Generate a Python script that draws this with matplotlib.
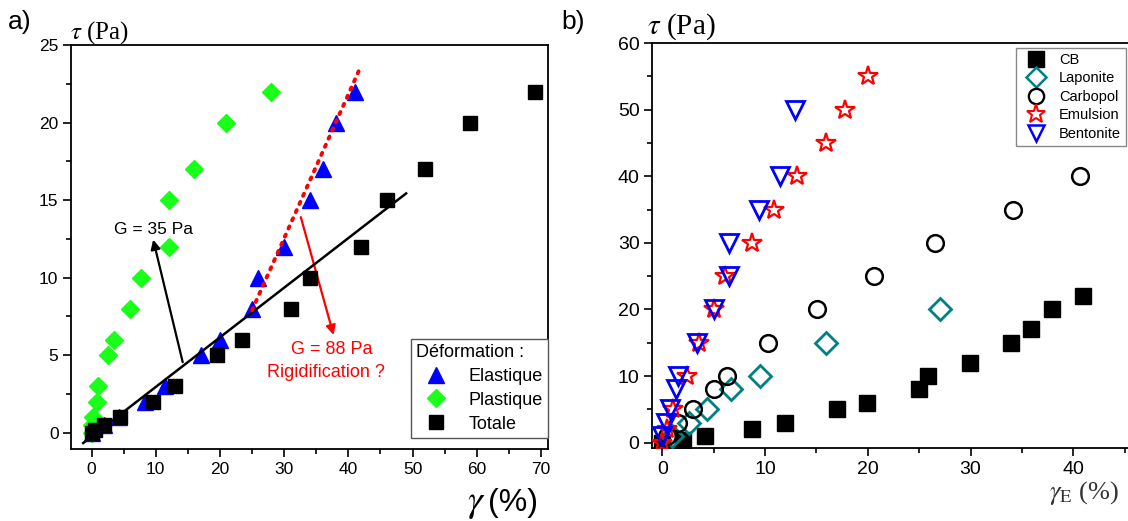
import matplotlib
matplotlib.use("Agg")
import matplotlib.pyplot as plt
from matplotlib.ticker import MultipleLocator
from matplotlib.lines import Line2D

plt.rcParams['font.family'] = ['Liberation Sans', 'DejaVu Sans']
plt.rcParams['mathtext.fontset'] = 'stix'

# ---------------- Panel a) data ----------------
elast_x = [0, 2, 4.2, 8.3, 11.5, 17, 20, 25, 26, 30, 34, 36, 38, 41]
elast_y = [0, 0.5, 1, 2, 3, 5, 6, 8, 10, 12, 15, 17, 20, 22]
plast_x = [0, 0, 0.2, 0.8, 1, 2.5, 3.5, 6, 7.7, 12, 12, 16, 21, 28]
plast_y = [0, 0.5, 1, 2, 3, 5, 6, 8, 10, 12, 15, 17, 20, 22]
total_x = [0, 0.5, 2, 4.5, 9.5, 13, 19.5, 23.5, 31, 34, 42, 46, 52, 59, 69]
total_y = [0, 0.2, 0.5, 1, 2, 3, 5, 6, 8, 10, 12, 15, 17, 20, 22]
fit_total = (0.32, -0.25, -1.3, 49.0)     # slope, intercept, x start, x end
fit_elast = (0.928, -15.3, 25.0, 41.6)

# ---------------- Panel b) data ----------------
cb_x = [0, 2, 4.2, 8.7, 11.9, 17, 19.9, 25, 25.9, 29.9, 33.9, 35.9, 37.9, 40.9]
cb_y = [0, 0.4, 1, 2, 3, 5, 6, 8, 10, 12, 15, 17, 20, 22]
lap_x = [0.9, 2.6, 4.4, 6.7, 9.5, 15.9, 27]
lap_y = [1, 3, 5, 8, 10, 15, 20]
carb_x = [0.5, 1.5, 3.0, 5.0, 6.3, 10.3, 15.1, 20.6, 26.5, 34.1, 40.6]
carb_y = [1, 3, 5, 8, 10, 15, 20, 25, 30, 35, 40]
emul_x = [0, 0.5, 1.0, 2.4, 3.6, 5.0, 6.1, 8.7, 10.9, 13.1, 15.9, 17.8, 20]
emul_y = [0, 2, 5, 10, 15, 20, 25, 30, 35, 40, 45, 50, 55]
bent_x = [0, 0.35, 0.8, 1.3, 1.5, 3.4, 5.0, 6.5, 6.5, 9.4, 11.5, 12.9]
bent_y = [1, 3, 5, 8, 10, 15, 20, 25, 30, 35, 40, 50]

GREEN = '#1aff1a'

W, H = 1128, 521
fig = plt.figure(figsize=(W / 100, H / 100), dpi=100)

def px_axes(l, r, t, b):
    return fig.add_axes([l / W, 1 - b / H, (r - l) / W, (b - t) / H])

def style(ax, fs):
    for s in ax.spines.values():
        s.set_linewidth(1.3)
    ax.tick_params(which='major', direction='out', length=6, width=1.2,
                   labelsize=fs, top=False, right=False, pad=3)
    ax.tick_params(which='minor', direction='out', length=3.5, width=1.2,
                   top=False, right=False)

# ---------------- Panel a ----------------
ax1 = px_axes(71, 548, 45, 449)
ax1.set_xlim(-3.2, 71.1)
ax1.set_ylim(-1.05, 25)
ax1.xaxis.set_major_locator(MultipleLocator(10))
ax1.xaxis.set_minor_locator(MultipleLocator(5))
ax1.yaxis.set_major_locator(MultipleLocator(5))
ax1.yaxis.set_minor_locator(MultipleLocator(2.5))
style(ax1, 12.5)

s, b, x0, x1 = fit_total
ax1.plot([x0, x1], [s * x0 + b, s * x1 + b], color='black', lw=1.8, zorder=4)
ax1.plot(plast_x, plast_y, ls='none', marker='D', ms=9.5, color=GREEN,
         mec=GREEN, zorder=3)
ax1.plot(elast_x, elast_y, ls='none', marker='^', ms=11, color='#0000ff', zorder=3)
ax1.plot(total_x, total_y, ls='none', marker='s', ms=10, color='black', zorder=5)
s, b, x0, x1 = fit_elast
ax1.plot([x0, x1], [s * x0 + b, s * x1 + b], color='#ff0000', lw=2.8,
         ls=(0, (0.6, 1.7)), dash_capstyle='round', zorder=6)

ax1.annotate('', xy=(9.6, 12.45), xytext=(14.2, 4.55),
             arrowprops=dict(arrowstyle='-|>', color='black', lw=1.6,
                             mutation_scale=14, shrinkA=0, shrinkB=0))
ax1.text(9.7, 13.1, 'G = 35 Pa', ha='center', va='center', fontsize=12.5)
ax1.annotate('', xy=(37.7, 6.3), xytext=(32.6, 13.9),
             arrowprops=dict(arrowstyle='-|>', color='#ff0000', lw=1.6,
                             mutation_scale=14, shrinkA=0, shrinkB=0))
ax1.text(37.4, 5.35, 'G = 88 Pa', ha='center', va='center', fontsize=13,
         color='#ff0000')
ax1.text(36.5, 3.9, 'Rigidification ?', ha='center', va='center', fontsize=13,
         color='#ff0000')

h1 = [Line2D([], [], ls='none', marker='^', ms=11, color='#0000ff'),
      Line2D([], [], ls='none', marker='D', ms=9.5, color=GREEN),
      Line2D([], [], ls='none', marker='s', ms=10, color='black')]
leg1 = ax1.legend(h1, ['Elastique', 'Plastique', 'Totale'], title='Déformation :',
                  loc='lower right', bbox_to_anchor=(1.0, 0.027), borderaxespad=0,
                  fontsize=13, title_fontsize=13, fancybox=False, edgecolor='#555555',
                  handletextpad=0.7, labelspacing=0.38, borderpad=0.3,
                  alignment='left', framealpha=1, handlelength=2.2)
leg1.get_frame().set_linewidth(1.0)

fig.text(70 / W, 1 - 33 / H, r'$\tau$ (Pa)', fontsize=18, ha='left', va='center',
         family='Liberation Serif')
fig.text(467 / W, 1 - 503 / H, r'$\gamma$', fontsize=27, ha='left', va='center')
fig.text(488 / W, 1 - 503 / H, '(%)', fontsize=23, ha='left', va='center')
fig.text(8 / W, 1 - 22 / H, 'a)', fontsize=19, ha='left', va='center')

# ---------------- Panel b ----------------
ax2 = px_axes(652, 1135, 43, 448)
ax2.set_xlim(-1.0, 46.0)
ax2.set_ylim(-0.8, 60)
ax2.xaxis.set_major_locator(MultipleLocator(10))
ax2.xaxis.set_minor_locator(MultipleLocator(5))
ax2.yaxis.set_major_locator(MultipleLocator(10))
ax2.yaxis.set_minor_locator(MultipleLocator(5))
style(ax2, 14)

ax2.plot(cb_x, cb_y, ls='none', marker='s', ms=11.5, color='black', zorder=3)
ax2.plot(lap_x, lap_y, ls='none', marker='D', ms=11, mfc='none', mec='#008080',
         mew=2, zorder=3)
ax2.plot(carb_x, carb_y, ls='none', marker='o', ms=12, mfc='none', mec='black',
         mew=1.8, zorder=3)
ax2.plot(emul_x, emul_y, ls='none', marker='*', ms=15, mfc='none', mec='#ff0000',
         mew=1.6, zorder=3)
ax2.plot(bent_x, bent_y, ls='none', marker='v', ms=13, mfc='none', mec='#0000ff',
         mew=2, zorder=4)

h2 = [Line2D([], [], ls='none', marker='s', ms=11, color='black'),
      Line2D([], [], ls='none', marker='D', ms=10, mfc='none', mec='#008080', mew=1.8),
      Line2D([], [], ls='none', marker='o', ms=11, mfc='none', mec='black', mew=1.7),
      Line2D([], [], ls='none', marker='*', ms=14, mfc='none', mec='#ff0000', mew=1.5),
      Line2D([], [], ls='none', marker='v', ms=12, mfc='none', mec='#0000ff', mew=1.8)]
leg2 = fig.legend(h2, ['CB', 'Laponite', 'Carbopol', 'Emulsion', 'Bentonite'],
                  loc='upper right', bbox_to_anchor=(1126 / W, 1 - 48 / H),
                  borderaxespad=0, fontsize=10.5, fancybox=False, edgecolor='#888888',
                  handletextpad=0.6, labelspacing=0.3, borderpad=0.35,
                  framealpha=1, handlelength=2.0)
leg2.get_frame().set_linewidth(1.0)

fig.text(647 / W, 1 - 27 / H, r'$\tau$ (Pa)', fontsize=21, ha='left', va='center',
         family='Liberation Serif')
fig.text(1049 / W, 1 - 493 / H, r'$\gamma_{\mathrm{E}}$ (%)', fontsize=19, ha='left',
         va='center', family='Liberation Serif', color='#333333')
fig.text(561 / W, 1 - 22 / H, 'b)', fontsize=19, ha='left', va='center')

fig.savefig('out.png', dpi=100)
